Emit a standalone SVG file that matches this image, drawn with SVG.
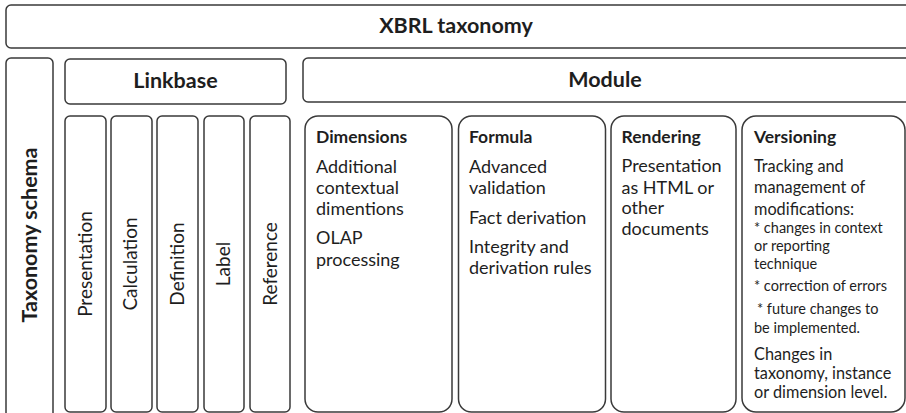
<svg xmlns="http://www.w3.org/2000/svg" width="906" height="413" viewBox="0 0 906 413">
  <style>
    .box { fill: #ffffff; stroke: #3a3a3a; stroke-width: 1.5; }
    .t { font-family: Lato, "Open Sans", sans-serif; fill: #1e1e1e; }
    .hb { font-weight: bold; font-size: 21.5px; }
    .head { font-weight: bold; font-size: 17.5px; }
    .body { font-size: 18px; }
    .vbody { font-size: 16.3px; }
    .small { font-size: 14.5px; }
    .vert { font-size: 19px; }
  </style>
  <rect width="906" height="413" fill="#ffffff"/>

  <!-- top level: the taxonomy -->
  <g id="xbrl-taxonomy">
    <rect class="box" x="6" y="5" width="910" height="43" rx="5"/>
    <text class="t hb" x="456" y="33" text-anchor="middle">XBRL taxonomy</text>
  </g>

  <g id="taxonomy-schema">
    <rect class="box" x="6" y="58" width="47" height="360" rx="5"/>
    <text class="t hb" transform="translate(37,235) rotate(-90)" text-anchor="middle">Taxonomy schema</text>
  </g>

  <!-- linkbase and its five link types -->
  <g id="linkbase">
    <rect class="box" x="65" y="59" width="221" height="45" rx="5"/>
    <text class="t hb" x="175.5" y="88" text-anchor="middle">Linkbase</text>
  </g>
  <g id="presentation">
    <rect class="box" x="65" y="116" width="41" height="296" rx="5"/>
    <text class="t vert" transform="translate(92,264) rotate(-90)" text-anchor="middle">Presentation</text>
  </g>
  <g id="calculation">
    <rect class="box" x="111" y="116" width="41" height="296" rx="5"/>
    <text class="t vert" transform="translate(137,264) rotate(-90)" text-anchor="middle">Calculation</text>
  </g>
  <g id="definition">
    <rect class="box" x="157" y="116" width="41" height="296" rx="5"/>
    <text class="t vert" transform="translate(184,264) rotate(-90)" text-anchor="middle">Definition</text>
  </g>
  <g id="label">
    <rect class="box" x="204" y="116" width="40" height="296" rx="5"/>
    <text class="t vert" transform="translate(230,264) rotate(-90)" text-anchor="middle">Label</text>
  </g>
  <g id="reference">
    <rect class="box" x="250" y="116" width="40" height="296" rx="5"/>
    <text class="t vert" transform="translate(277,264) rotate(-90)" text-anchor="middle">Reference</text>
  </g>

  <!-- module and its four parts -->
  <g id="module">
    <rect class="box" x="303" y="58" width="613" height="44" rx="5"/>
    <text class="t hb" x="605" y="87" text-anchor="middle">Module</text>
  </g>

  <g id="dimensions">
    <rect class="box" x="305" y="116" width="147" height="296" rx="13"/>
    <text class="t head" x="316" y="142.5">Dimensions</text>
    <text class="t body" x="316">
      <tspan x="316" y="172.5">Additional</tspan>
      <tspan x="316" y="193.5">contextual</tspan>
      <tspan x="316" y="214.5">dimentions</tspan>
      <tspan x="316" y="244">OLAP</tspan>
      <tspan x="316" y="265.5">processing</tspan>
    </text>
  </g>

  <g id="formula">
    <rect class="box" x="458.5" y="116" width="147" height="296" rx="13"/>
    <text class="t head" x="469" y="142.5">Formula</text>
    <text class="t body" x="469">
      <tspan x="469" y="172.5">Advanced</tspan>
      <tspan x="469" y="193.5">validation</tspan>
      <tspan x="469" y="224">Fact derivation</tspan>
      <tspan x="469" y="252.5">Integrity and</tspan>
      <tspan x="469" y="274">derivation rules</tspan>
    </text>
  </g>

  <g id="rendering">
    <rect class="box" x="611" y="116" width="125" height="296" rx="13"/>
    <text class="t head" x="621.5" y="142.5">Rendering</text>
    <text class="t body" x="621.5">
      <tspan x="621.5" y="172">Presentation</tspan>
      <tspan x="621.5" y="193.5">as HTML or</tspan>
      <tspan x="621.5" y="214">other</tspan>
      <tspan x="621.5" y="234.5">documents</tspan>
    </text>
  </g>

  <g id="versioning">
    <rect class="box" x="742" y="116" width="163" height="296" rx="14"/>
    <text class="t head" x="754" y="142.5">Versioning</text>
    <text class="t vbody" x="754">
      <tspan x="754" y="172">Tracking and</tspan>
      <tspan x="754" y="193">management of</tspan>
      <tspan x="754" y="214.5">modifications:</tspan>
    </text>
    <text class="t small" x="754">
      <tspan x="754" y="233">* changes in context</tspan>
      <tspan x="754" y="251">or reporting</tspan>
      <tspan x="754" y="268.5">technique</tspan>
      <tspan x="754" y="291">* correction of errors</tspan>
      <tspan x="757" y="313.5">* future changes to</tspan>
      <tspan x="754" y="332.5">be implemented.</tspan>
    </text>
    <text class="t vbody" x="754">
      <tspan x="754" y="360">Changes in</tspan>
      <tspan x="754" y="379">taxonomy, instance</tspan>
      <tspan x="754" y="398">or dimension level.</tspan>
    </text>
  </g>
</svg>
